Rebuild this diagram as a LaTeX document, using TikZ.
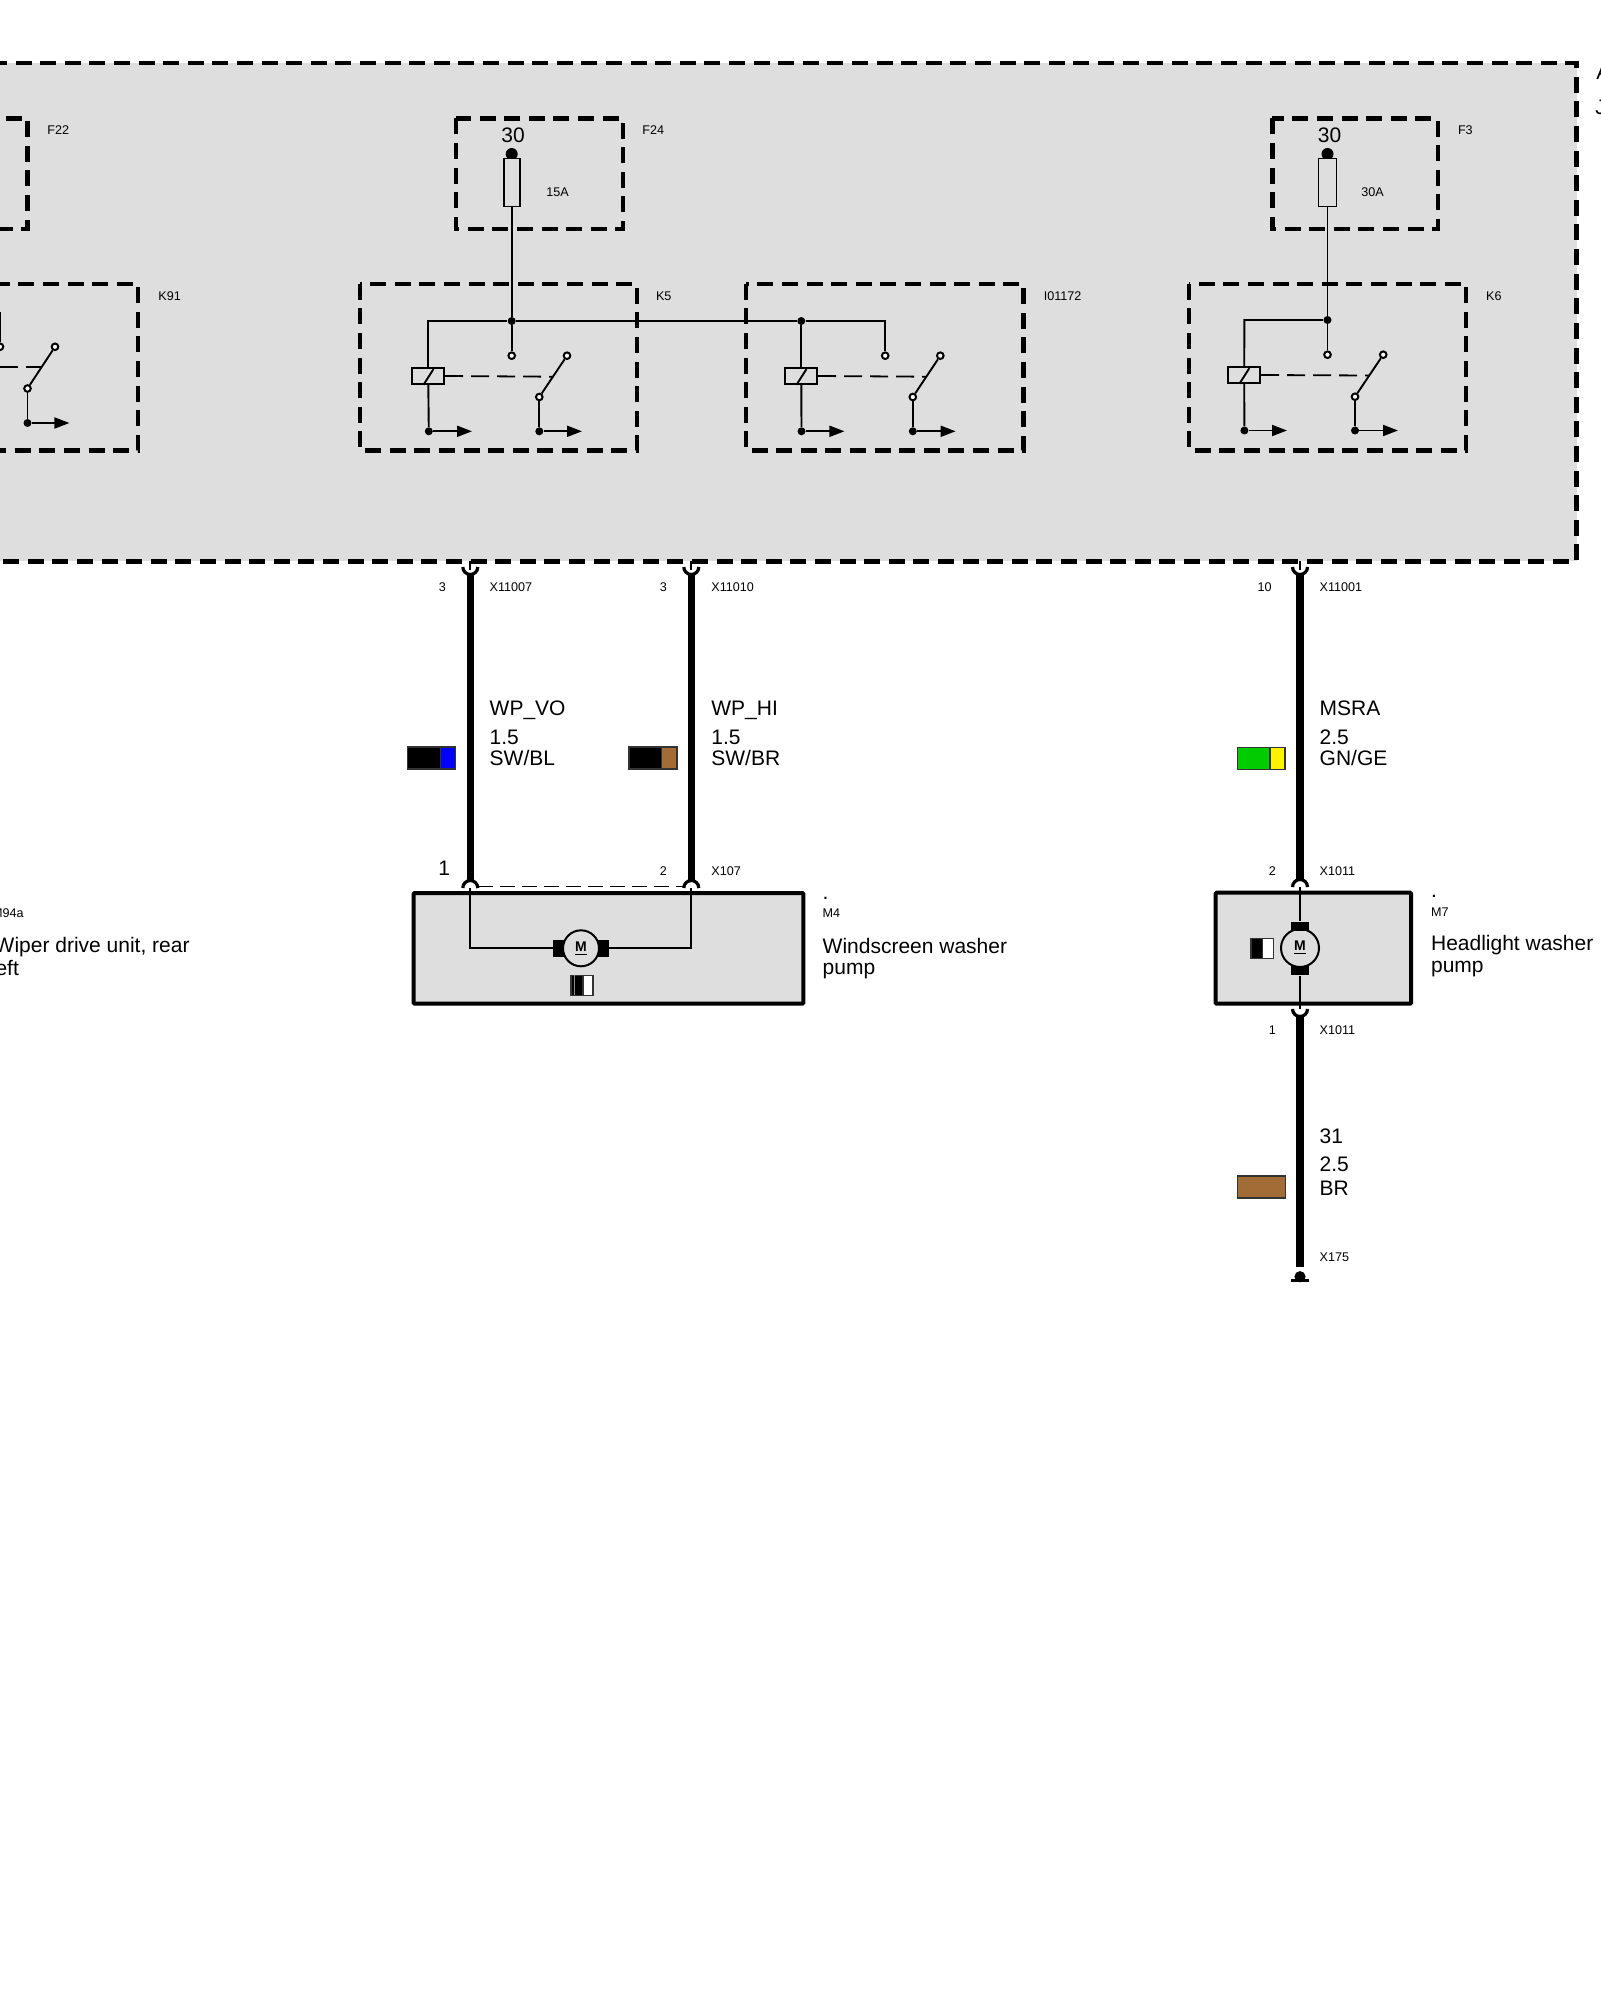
\documentclass[tikz,border=0pt]{standalone}
\usepackage{fontspec}
\setmainfont{Liberation Sans}
\usetikzlibrary{arrows.meta}
\definecolor{panel}{HTML}{DEDEDE}
\definecolor{cablebrown}{HTML}{A26C36}
\begin{document}
\begin{tikzpicture}[x=0.5pt, y=-0.5pt]
            \tikzstyle{dashbox}=[draw=black, line width=2.1pt, dash pattern=on 8pt off 4.3pt]
            \tikzstyle{compbox}=[draw=black, fill=panel, line width=2pt, rounded corners=0.5pt]
            \tikzstyle{thin}=[line width=0.95pt]
            \tikzstyle{wire}=[line width=3.7pt]
            \tikzstyle{fork}=[line width=1.6pt]
            \tikzstyle{link}=[line width=0.9pt, dash pattern=on 9pt off 4pt]
            \tikzstyle{earth}=[thin, -{Triangle[length=7.5pt, width=5.5pt]}]
            \tikzstyle{tag}=[font=\fontsize{6.3}{7}\selectfont, anchor=base west, inner sep=0]
            \tikzstyle{num}=[font=\fontsize{6.3}{7}\selectfont, anchor=base, inner sep=0]
            \tikzstyle{lab}=[font=\fontsize{10.5}{11}\selectfont, anchor=base west, inner sep=0]
            \tikzstyle{pin}=[circle, fill=black, inner sep=0, minimum size=4pt]
            \tikzstyle{contact}=[circle, draw=black, fill=white, line width=1pt, inner sep=0, minimum size=3.3pt]
            \tikzstyle{fuse}=[draw=black, fill=panel, line width=0.85pt, inner sep=0, minimum width=8pt, minimum height=24pt]
            \tikzstyle{coil}=[draw=black, fill=panel, line width=0.85pt, inner sep=0, minimum width=16pt, minimum height=8pt]
            \tikzstyle{motor}=[circle, draw=black, fill=panel, line width=1pt, inner sep=0, minimum size=18pt, font=\fontsize{7}{7}\bfseries\selectfont]
            \tikzstyle{brush}=[fill=black, inner sep=0]
            \tikzstyle{swatch}=[draw=black!80, line width=0.6pt, inner sep=0, minimum width=24pt, minimum height=11pt]
            \clip (0, 0) rectangle (1600, 2000);
            % control unit
            \draw [dashbox, fill=panel] (-40, 63.4) rectangle (1576.5, 561.4);
            \node [lab] (unita) at (1596, 80) {A};
            \node [lab] (unitb) at (1595, 115) {J};
            \draw [dashbox] (-40, 118.5) rectangle (27.5, 229.4);
            \draw [dashbox] (455.6, 118.5) rectangle (623, 229.4);
            \draw [dashbox] (1272.4, 118.5) rectangle (1437.8, 229.4);
            \draw [dashbox] (-40, 283.8) rectangle (138, 450.5);
            \draw [dashbox] (359.7, 283.8) rectangle (636.7, 450.5);
            \draw [dashbox] (746, 283.8) rectangle (1023.5, 450.5);
            \draw [dashbox] (1189.3, 283.8) rectangle (1465.8, 450.5);
            \node [tag] (f22) at (47, 135) {F22};
            \node [tag] (f24) at (642, 135) {F24};
            \node [tag] (f3) at (1457.6, 135) {F3};
            \node [tag] (k91) at (158, 301) {K91};
            \node [tag] (k5) at (655.6, 301) {K5};
            \node [tag] (i01172) at (1043.4, 301) {I01172};
            \node [tag] (k6) at (1485.7, 301) {K6};
            % fuses
            \node [lab, anchor=base] (t30a) at (513, 142.5) {30};
            \node [lab, anchor=base] (t30b) at (1329.6, 142.5) {30};
            \node [pin, minimum size=6pt] (f24top) at (511.7, 154) {};
            \node [pin, minimum size=6pt] (f3top) at (1327.5, 154) {};
            \node [fuse] (f24fuse) at (511.7, 182.6) {};
            \node [fuse, minimum width=9pt] (f3fuse) at (1327.5, 182.6) {};
            \node [tag] (a15) at (546, 197) {15A};
            \node [tag] (a30) at (1361, 197) {30A};
            % relay K91, cut off by the page
            \coordinate (k91w) at (0, 312);
            \coordinate (k91m) at (41.8, 367);
            \coordinate (k91d) at (0, 367);
            \coordinate (k91e) at (69.4, 423);
            \node [contact] (k91a) at (0, 346.8) {};
            \node [contact] (k91b) at (55, 346.8) {};
            \node [contact] (k91c) at (27.5, 388.5) {};
            \node [pin] (k91g) at (27.5, 423) {};
            \draw [thin] (k91w) -- (k91a);
            \draw [thin] (k91c) -- (k91b);
            \draw [link] (k91d) -- (k91m);
            \draw [thin] (k91c) -- (k91g);
            \draw [earth] (k91g) -- (k91e);
            % relay K5
            \node [pin] (k5j) at (511.7, 321) {};
            \coordinate (k5l) at (428.3, 321);
            \node [coil] (k5coil) at (428.3, 376) {};
            \node [contact] (k5a) at (511.7, 355.7) {};
            \node [contact] (k5b) at (567, 355.7) {};
            \node [contact] (k5c) at (539.3, 397) {};
            \node [pin] (k5g) at (428.8, 431.3) {};
            \node [pin] (k5h) at (539.3, 431.3) {};
            \coordinate (k5m) at (553.3, 376.7);
            \coordinate (k5e) at (472, 431.3);
            \coordinate (k5f) at (582, 431.3);
            \draw [thin] (f24fuse.south) -- (k5j) -- (k5a);
            \draw [thin] (k5j) -- (k5l) -- (k5coil.north);
            \draw [thin] (k5coil.south) -- (k5g);
            \draw [thin] (k5coil.south west) ++(12, 0) -- +(10, -15.7);
            \draw [link] (k5coil.east) -- (k5m);
            \draw [thin] (k5c) -- (k5b);
            \draw [thin] (k5c) -- (k5h);
            \draw [earth] (k5g) -- (k5e);
            \draw [earth] (k5h) -- (k5f);
            % relay I01172
            \node [pin] (i1j) at (801.3, 321) {};
            \coordinate (i1l) at (885.2, 321);
            \node [coil] (i1coil) at (801.3, 376) {};
            \node [contact] (i1a) at (885.2, 355.7) {};
            \node [contact] (i1b) at (940.3, 355.7) {};
            \node [contact] (i1c) at (912.8, 397) {};
            \node [pin] (i1g) at (801.5, 431.3) {};
            \node [pin] (i1h) at (912.8, 431.3) {};
            \coordinate (i1m) at (926.6, 376.7);
            \coordinate (i1e) at (844.4, 431.3);
            \coordinate (i1f) at (955.6, 431.3);
            \draw [thin] (k5j) -- (i1j) -- (i1l) -- (i1a);
            \draw [thin] (i1j) -- (i1coil.north);
            \draw [thin] (i1coil.south) -- (i1g);
            \draw [thin] (i1coil.south west) ++(12, 0) -- +(10, -15.7);
            \draw [link] (i1coil.east) -- (i1m);
            \draw [thin] (i1c) -- (i1b);
            \draw [thin] (i1c) -- (i1h);
            \draw [earth] (i1g) -- (i1e);
            \draw [earth] (i1h) -- (i1f);
            % relay K6
            \node [pin] (k6j) at (1327.5, 320) {};
            \coordinate (k6l) at (1244.4, 320);
            \node [coil] (k6coil) at (1244.2, 375) {};
            \node [contact] (k6a) at (1327.5, 354.7) {};
            \node [contact] (k6b) at (1383.2, 354.7) {};
            \node [contact] (k6c) at (1355, 396.7) {};
            \node [pin] (k6g) at (1244.4, 430.5) {};
            \node [pin] (k6h) at (1355, 430.5) {};
            \coordinate (k6m) at (1369, 375.5);
            \coordinate (k6e) at (1287, 430.5);
            \coordinate (k6f) at (1398, 430.5);
            \draw [thin] (f3fuse.south) -- (k6j) -- (k6a);
            \draw [thin] (k6j) -- (k6l) -- (k6coil.north);
            \draw [thin] (k6coil.south) -- (k6g);
            \draw [thin] (k6coil.south west) ++(12, 0) -- +(10, -15.7);
            \draw [link] (k6coil.east) -- (k6m);
            \draw [thin] (k6c) -- (k6b);
            \draw [thin] (k6c) -- (k6h);
            \draw [earth] (k6g) -- (k6e);
            \draw [earth] (k6h) -- (k6f);
            % pump M4
            \draw [compbox] (413.7, 893) rectangle (803.3, 1003.7);
            \node [motor] (m4) at (581, 948.3) {\underline{M}};
            \node [brush, minimum width=5.4pt, minimum height=8.4pt] (m4l) at (558.7, 948.3) {};
            \node [brush, minimum width=5.4pt, minimum height=8.4pt] (m4r) at (603.5, 948.3) {};
            \coordinate (m4a) at (470.3, 888);
            \coordinate (m4b) at (691.3, 888);
            \coordinate (m4c) at (470.3, 948.3);
            \coordinate (m4d) at (691.3, 948.3);
            \draw [thin] (m4a) -- (m4c) -- (m4l);
            \draw [thin] (m4b) -- (m4d) -- (m4r);
            \draw [link, line width=0.75pt, dash pattern=on 7.5pt off 3.5pt] (478, 886.7) -- (683.5, 886.7);
            \node [swatch, fill=black, minimum width=6pt, minimum height=10pt] (m4sa) at (577, 985.5) {};
            \node [swatch, fill=white, minimum width=5pt, minimum height=10pt] (m4sb) at (588, 985.5) {};
            \draw [line width=0.4pt, black!45] (m4sa.north west) ++(3.5, 0) -- ++(0, 20);
            \node [lab] (m4dot) at (822.3, 899.3) {.};
            \node [tag] (m4name) at (822.3, 917.7) {M4};
            \node [lab] (m4text) at (822.3, 953.3) {Windscreen washer};
            \node [lab] (m4pump) at (822.3, 974.7) {pump};
            % pump M7
            \draw [compbox] (1215.7, 892.7) rectangle (1411, 1003.7);
            \node [motor, minimum size=19pt] (m7) at (1300, 948) {\underline{M}};
            \node [brush, minimum width=9pt, minimum height=4.6pt] (m7t) at (1300, 926.2) {};
            \node [brush, minimum width=9pt, minimum height=4.6pt] (m7u) at (1300, 970.5) {};
            \coordinate (m7a) at (1300, 887);
            \coordinate (m7b) at (1300, 1009);
            \draw [thin] (m7a) -- (m7t);
            \draw [thin] (m7u) -- (m7b);
            \node [swatch, fill=black, minimum width=5.6pt, minimum height=10pt] (m7sa) at (1256.6, 948.3) {};
            \node [swatch, fill=white, minimum width=5.5pt, minimum height=10pt] (m7sb) at (1267.8, 948.3) {};
            \node [lab] (m7dot) at (1430.7, 897.3) {.};
            \node [tag] (m7name) at (1430.7, 916) {M7};
            \node [lab] (m7text) at (1430.7, 950.7) {Headlight washer};
            \node [lab] (m7pump) at (1430.7, 972) {pump};
            % wiper drive, cut off by the page
            \node [tag, anchor=base east] (m94a) at (24, 917.7) {M94a};
            \node [lab, anchor=base east] (wdtext) at (190, 952.7) {Wiper drive unit, rear};
            \node [lab, anchor=base east] (wdleft) at (19.3, 975) {left};
            % wires
            \coordinate (w1a) at (470.3, 574);
            \coordinate (w1b) at (470.3, 881);
            \coordinate (w2a) at (691.3, 574);
            \coordinate (w2b) at (691.3, 881);
            \coordinate (w3a) at (1300, 574);
            \coordinate (w3b) at (1300, 880);
            \coordinate (w4a) at (1300, 1016);
            \coordinate (w4b) at (1300, 1266.7);
            \draw [wire] (w1a) -- (w1b);
            \draw [wire] (w2a) -- (w2b);
            \draw [wire] (w3a) -- (w3b);
            \draw [wire] (w4a) -- (w4b);
            % plug forks
            \draw [fork] (462.8, 567) arc [start angle=180, end angle=360, radius=3.75pt];
            \draw [fork] (683.8, 567) arc [start angle=180, end angle=360, radius=3.75pt];
            \draw [fork] (1292.5, 567) arc [start angle=180, end angle=360, radius=3.75pt];
            \draw [fork] (1292.5, 1009) arc [start angle=180, end angle=360, radius=3.75pt];
            \draw [fork] (462.8, 888) arc [start angle=180, end angle=0, radius=3.75pt];
            \draw [fork] (683.8, 888) arc [start angle=180, end angle=0, radius=3.75pt];
            \draw [fork] (1292.5, 887) arc [start angle=180, end angle=0, radius=3.75pt];
            \draw [thin] (470.3, 561.4) -- (470.3, 570);
            \draw [thin] (691.3, 561.4) -- (691.3, 570);
            \draw [thin] (1300, 561.4) -- (1300, 570);
            % earth point
            \node [pin, minimum size=5.6pt] (x175dot) at (1300, 1276.7) {};
            \draw [line width=1.5pt] (1291, 1280) -- (1309, 1280);
            % wire labels
            \node [num] (p3a) at (442.3, 591) {3};
            \node [tag] (x11007) at (489.3, 591) {X11007};
            \node [num] (p3b) at (663.3, 591) {3};
            \node [tag] (x11010) at (711, 591) {X11010};
            \node [num] (p10) at (1264.5, 591) {10};
            \node [tag] (x11001) at (1319.3, 591) {X11001};
            \node [lab] (wpvo) at (489.3, 715.7) {WP\_VO};
            \node [lab] (s1a) at (489.3, 744) {1.5};
            \node [lab] (c1) at (489.3, 765) {SW/BL};
            \node [lab] (wphi) at (711, 715.7) {WP\_HI};
            \node [lab] (s2a) at (711, 744) {1.5};
            \node [lab] (c2) at (711, 765) {SW/BR};
            \node [lab] (msra) at (1319.3, 715.7) {MSRA};
            \node [lab] (s3a) at (1319.3, 744) {2.5};
            \node [lab] (c3) at (1319.3, 765) {GN/GE};
            \node [lab, anchor=base] (p1) at (444.3, 875) {1};
            \node [num] (p2a) at (663.3, 875) {2};
            \node [tag] (x107) at (711, 875) {X107};
            \node [num] (p2b) at (1272.3, 875) {2};
            \node [tag] (x1011a) at (1319.3, 875) {X1011};
            \node [num] (p1b) at (1272.3, 1034) {1};
            \node [tag] (x1011b) at (1319.3, 1034) {X1011};
            \node [lab] (t31) at (1319.3, 1143.3) {31};
            \node [lab] (s4a) at (1319.3, 1171.7) {2.5};
            \node [lab] (c4) at (1319.3, 1195) {BR};
            \node [tag] (x175) at (1319.3, 1261.7) {X175};
            % cable colours
            \node [swatch, fill=black, minimum width=24pt] (sw1) at (431.5, 758) {};
            \node [swatch, fill=blue, minimum width=7.5pt] (sw1b) at (448, 758) {};
            \node [swatch, fill=black, minimum width=24pt] (sw2) at (653, 758) {};
            \node [swatch, fill=cablebrown, minimum width=7.5pt] (sw2b) at (669.2, 758) {};
            \node [swatch, fill=green!80!black] (sw3) at (1261.3, 758.4) {};
            \node [swatch, fill=yellow, minimum width=7.5pt] (sw3b) at (1277.5, 758.4) {};
            \node [swatch, fill=cablebrown] (sw4) at (1261.5, 1187) {};
        \end{tikzpicture}
\end{document}
